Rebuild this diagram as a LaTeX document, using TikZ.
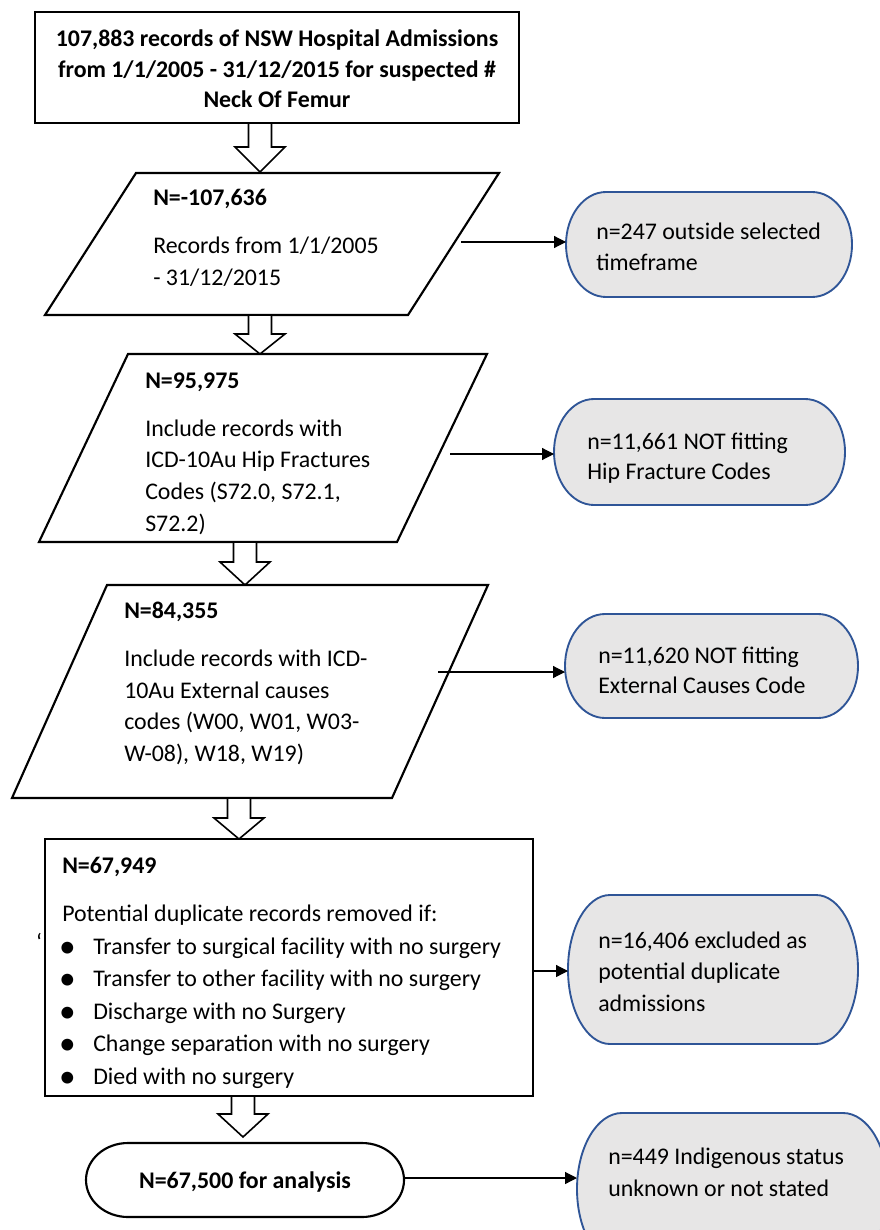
\documentclass[tikz,border=0pt]{standalone}
\usepackage{fontspec}
\setmainfont{Carlito}
\usetikzlibrary{arrows.meta}
\definecolor{exborder}{HTML}{2F5597}
\definecolor{exfill}{HTML}{E7E6E6}
\newcommand{\bodyfnt}{\fontsize{17.9pt}{22pt}\selectfont}
\newcommand{\bulfnt}{\fontsize{25pt}{25pt}\selectfont}
% rounded (elliptical-ended) box: style, x1, y1, x2, y2, rx  (pixel units)
\newcommand{\ovalbox}[6]{%
  \pgfmathsetmacro{\ryy}{(#5-#3)/2*0.75}%
  \pgfmathsetmacro{\rxx}{#6*0.75}%
  \draw[#1] ({#2+#6},#3) -- ({#4-#6},#3)
    arc[start angle=90,end angle=-90,x radius=\rxx pt,y radius=\ryy pt]
    -- ({#2+#6},#5)
    arc[start angle=270,end angle=90,x radius=\rxx pt,y radius=\ryy pt] -- cycle;}
% hollow block arrow: cx, ytop, yhead, ytip
\newcommand{\hollowarr}[4]{%
  \draw[hollow] ({#1-11.5},#2) -- ({#1+11.5},#2) -- ({#1+11.5},#3) -- ({#1+25},#3)
    -- (#1,#4) -- ({#1-25},#3) -- ({#1-11.5},#3) -- cycle;}
\tikzset{
  shapeline/.style={draw=black, line width=1.6pt, fill=white, line join=miter},
  exline/.style={draw=exborder, line width=1.4pt, fill=exfill},
  hollow/.style={draw=black, line width=1.2pt, fill=white, line join=miter},
  conn/.style={draw=black, line width=0.9pt, -{Triangle[length=9pt,width=9pt]}},
  txt/.style={anchor=base west, inner sep=0pt, font=\bodyfnt},
  btxt/.style={anchor=base west, inner sep=0pt, font=\bodyfnt\bfseries},
  ctxt/.style={anchor=base, inner sep=0pt, font=\bodyfnt\bfseries},
  bul/.style={anchor=base, inner sep=0pt, font=\bulfnt},
}
\begin{document}
\begin{tikzpicture}[x=0.75pt, y=-0.75pt]
\useasboundingbox (0,0) rectangle (880,1230);
\fill[white] (0,0) rectangle (880,1230);
\clip (0,0) rectangle (880,1230);

% ---- top box
\draw[shapeline] (35,12) rectangle (519,123);
\node[ctxt] (t1) at (277,47) {107,883 records of NSW Hospital Admissions};
\node[ctxt] (t2) at (277,78) {from 1/1/2005 - 31/12/2015 for suspected \#};
\node[ctxt] (t3) at (277,108) {Neck Of Femur};

\hollowarr{260}{123}{147}{172}

% ---- parallelogram 1
\draw[shapeline] (136,173) -- (499,173) -- (408,315) -- (45,315) -- cycle;
\node[btxt] (p1a) at (153,206) {N=-107,636};
\node[txt] (p1b) at (153,254) {Records from 1/1/2005};
\node[txt] (p1c) at (153,286) {- 31/12/2015};
\coordinate (p1out) at (461,242);

\ovalbox{exline}{566}{192}{852}{297}{40}
\coordinate (ex1in) at (566,242);
\node[txt] (e1a) at (596,240) {n=247 outside selected};
\node[txt] (e1b) at (596,271) {timeframe};
\draw[conn] (p1out) -- (ex1in);

\hollowarr{260}{315}{334}{354}

% ---- parallelogram 2
\draw[shapeline] (128,354) -- (487,354) -- (397,542) -- (39,542) -- cycle;
\node[btxt] (p2a) at (145,388) {N=95,975};
\node[txt] (p2b) at (145,436) {Include records with};
\node[txt] (p2c) at (145,467) {ICD-10Au Hip Fractures};
\node[txt] (p2d) at (145,499) {Codes (S72.0, S72.1,};
\node[txt] (p2e) at (145,531) {S72.2)};
\coordinate (p2out) at (450,454);

\ovalbox{exline}{554}{399}{845}{505}{40}
\coordinate (ex2in) at (554,454);
\node[txt] (e2a) at (587,449) {n=11,661 NOT fitting};
\node[txt] (e2b) at (587,479) {Hip Fracture Codes};
\draw[conn] (p2out) -- (ex2in);

\hollowarr{245}{542}{562}{585}

% ---- parallelogram 3
\draw[shapeline] (107,585) -- (488,585) -- (392,798) -- (12,798) -- cycle;
\node[btxt] (p3a) at (124,618) {N=84,355};
\node[txt] (p3b) at (124,666) {Include records with ICD-};
\node[txt] (p3c) at (124,698) {10Au External causes};
\node[txt] (p3d) at (124,729) {codes (W00, W01, W03-};
\node[txt] (p3e) at (124,761) {W-08), W18, W19)};
\coordinate (p3out) at (438,672);

\ovalbox{exline}{565}{614}{858}{718}{40}
\coordinate (ex3in) at (565,672);
\node[txt] (e3a) at (598,663) {n=11,620 NOT fitting};
\node[txt] (e3b) at (598,693) {External Causes Code};
\draw[conn] (p3out) -- (ex3in);

\hollowarr{239}{798}{818}{839}

% ---- rectangle with bullet list
\draw[shapeline] (45,839) rectangle (533,1096);
\node[btxt] (r1) at (62,873) {N=67,949};
\node[txt] (r2) at (62,921) {Potential duplicate records removed if:};
\node[anchor=base, inner sep=0pt, font=\bodyfnt] (q) at (39,950) {‘};
\node[bul] (b1) at (67.5,957) {•};
\node[bul] (b2) at (67.5,989) {•};
\node[bul] (b3) at (67.5,1022) {•};
\node[bul] (b4) at (67.5,1054) {•};
\node[bul] (b5) at (67.5,1087) {•};
\node[txt] (l1) at (93,954) {Transfer to surgical facility with no surgery};
\node[txt] (l2) at (93,986) {Transfer to other facility with no surgery};
\node[txt] (l3) at (93,1019) {Discharge with no Surgery};
\node[txt] (l4) at (93,1051) {Change separation with no surgery};
\node[txt] (l5) at (93,1084) {Died with no surgery};
\coordinate (rout) at (533,971);

\ovalbox{exline}{568}{895}{858}{1044}{42}
\coordinate (ex4in) at (568,971);
\node[txt] (e4a) at (598,948) {n=16,406 excluded as};
\node[txt] (e4b) at (598,979) {potential duplicate};
\node[txt] (e4c) at (598,1011) {admissions};
\draw[conn] (rout) -- (ex4in);

\hollowarr{243}{1096}{1114}{1137}

% ---- terminal
\ovalbox{shapeline}{86}{1143}{404}{1217}{42}
\node[ctxt] (fin) at (245,1188) {N=67,500 for analysis};
\coordinate (finout) at (404,1178);

\ovalbox{exline}{577}{1113}{888}{1265}{45}
\coordinate (ex5in) at (577,1178);
\node[txt] (e5a) at (608,1164) {n=449 Indigenous status};
\node[txt] (e5b) at (608,1196) {unknown or not stated};
\draw[conn] (finout) -- (ex5in);
\end{tikzpicture}
\end{document}
